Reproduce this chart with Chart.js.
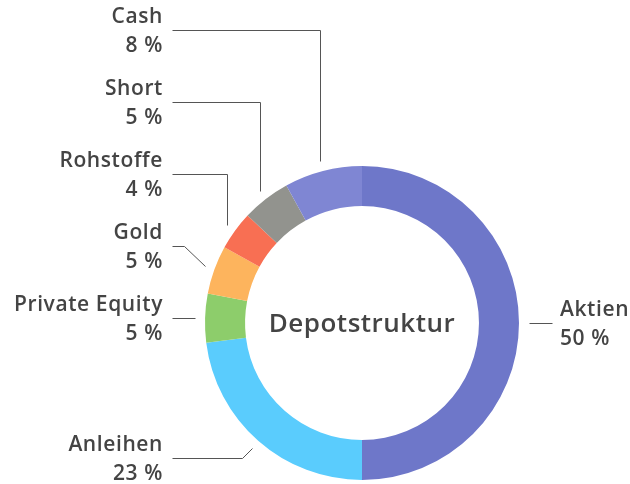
<!DOCTYPE html>
<html>
<head>
<meta charset="utf-8">
<script src="https://cdn.jsdelivr.net/npm/chart.js@4/dist/chart.umd.min.js"></script>
<style>
  html, body { margin: 0; padding: 0; background: #fff; }
  #wrap { width: 630px; height: 484px; }
</style>
</head>
<body>
<div id="wrap"><canvas id="myChart" width="630" height="484"></canvas></div>
<script>
const categories = ["Aktien", "Anleihen", "Private Equity", "Gold", "Rohstoffe", "Short", "Cash"];
const shares = [50, 23, 5, 5, 4, 5, 8];
const colors = ["#6e77c9", "#5accfd", "#8dcd6b", "#fdb45d", "#f86f53", "#92938e", "#7f86d3"];
const centerTitle = "Depotstruktur";

// where each label sits: y of the leader line, which side, how the leader bends
const labelLayout = [
  { y: 323, side: "right", bend: "flat" },
  { y: 458, side: "left", bend: "diag" },
  { y: 318, side: "left", bend: "flat" },
  { y: 246, side: "left", bend: "diag" },
  { y: 174, side: "left", bend: "vert" },
  { y: 102, side: "left", bend: "vert" },
  { y: 30, side: "left", bend: "vert" },
];

const FONT = "'Open Sans', sans-serif";
const TEXT_COLOR = "#444";

const calloutPlugin = {
  id: "callouts",
  afterDraw(chart) {
    const ctx = chart.ctx;
    const meta = chart.getDatasetMeta(0);
    ctx.save();
    meta.data.forEach((arc, i) => {
      const lay = labelLayout[i];
      const mid = (arc.startAngle + arc.endAngle) / 2;
      const r = arc.outerRadius + 10;
      const ax = arc.x + Math.cos(mid) * r;
      const ay = arc.y + Math.sin(mid) * r;
      const pts = [[ax, ay]];
      if (lay.bend === "vert") {
        pts.push([ax, lay.y]);
      } else if (lay.bend === "diag") {
        const dy = Math.abs(lay.y - ay);
        pts.push([ax - dy, lay.y]);
      }
      const endX = lay.side === "left" ? 172 : 552;
      pts.push([endX, lay.bend === "flat" ? ay : lay.y]);

      ctx.strokeStyle = "#555";
      ctx.lineWidth = 1;
      ctx.beginPath();
      ctx.moveTo(Math.round(pts[0][0]) + 0.5, Math.round(pts[0][1]) + 0.5);
      for (let k = 1; k < pts.length; k++) {
        ctx.lineTo(Math.round(pts[k][0]) + 0.5, Math.round(pts[k][1]) + 0.5);
      }
      ctx.stroke();

      ctx.fillStyle = TEXT_COLOR;
      ctx.font = "600 21px " + FONT;
      ctx.letterSpacing = "0.6px";
      ctx.textBaseline = "middle";
      const tx = lay.side === "left" ? 163 : 560;
      ctx.textAlign = lay.side === "left" ? "right" : "left";
      ctx.fillText(categories[i], tx, lay.y - 13);
      ctx.fillText(shares[i] + " %", tx, lay.y + 16);
    });

    // title in the hole
    ctx.font = "600 26px " + FONT;
    ctx.letterSpacing = "0.5px";
    ctx.textAlign = "center";
    ctx.textBaseline = "middle";
    ctx.fillStyle = TEXT_COLOR;
    ctx.fillText(centerTitle, meta.data[0].x, meta.data[0].y + 2);
    ctx.restore();
  },
};

const ctx = document.getElementById("myChart").getContext("2d");
new Chart(ctx, {
  type: "doughnut",
  data: {
    labels: categories,
    datasets: [
      {
        data: shares,
        backgroundColor: colors,
        borderWidth: 0,
        hoverOffset: 0,
      },
    ],
  },
  options: {
    responsive: false,
    animation: false,
    cutout: "74.5%",
    layout: {
      padding: { top: 166, bottom: 4, left: 205, right: 111 },
    },
    plugins: {
      legend: { display: false },
      tooltip: { enabled: false },
    },
  },
  plugins: [calloutPlugin],
});
</script>
</body>
</html>
